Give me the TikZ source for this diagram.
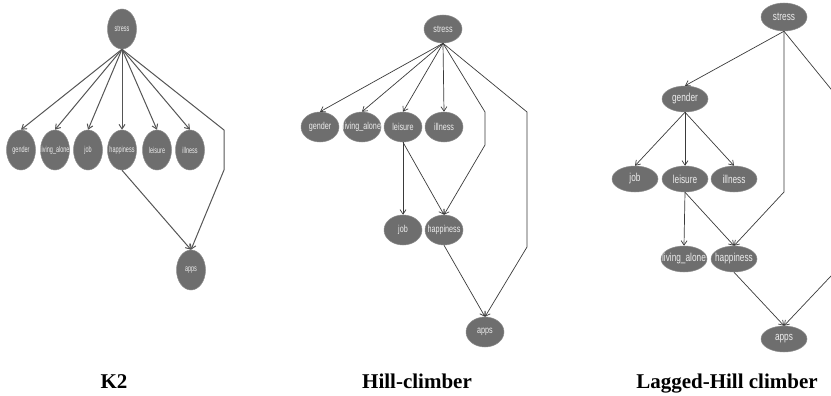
\documentclass[tikz,border=0pt]{standalone}
\usepackage{fontspec}
\setmainfont{Liberation Serif}
\newfontfamily\nodefont[FakeStretch=0.72]{Liberation Sans}
\newfontfamily\knodefont[FakeStretch=0.64]{Liberation Sans}
\usetikzlibrary{shapes.geometric,arrows.meta}
\definecolor{nodefill}{HTML}{6E6E6E}
\definecolor{nodeedge}{HTML}{8C8C8C}
\definecolor{nodetext}{HTML}{ECECEC}
\definecolor{edgecol}{HTML}{3A3A3A}
\definecolor{kedgecol}{HTML}{555555}
% zero-width label so the ellipse keeps its fixed size
\newcommand{\vlabel}[1]{\makebox[0pt][c]{#1}}
\begin{document}
\begin{tikzpicture}[x=1pt,y=-1pt,
  var/.style={ellipse, fill=nodefill, draw=nodeedge, line width=0.5pt,
              inner sep=0pt, text=nodetext},
  kvar/.style={var, minimum width=29pt, minimum height=40pt,
               font=\knodefont\fontsize{8.6}{9}\selectfont},
  hvar/.style={var, minimum width=38pt, minimum height=30pt,
               font=\nodefont\fontsize{10}{11}\selectfont},
  lvar/.style={var, minimum width=46pt, minimum height=26pt,
               font=\nodefont\fontsize{11.5}{12}\selectfont},
  arc/.style={draw=edgecol, line width=0.7pt,
              -{Straight Barb[length=4.5pt,width=6pt]}},
  karc/.style={arc, draw=kedgecol, line width=1pt},
  caption/.style={font=\bfseries\fontsize{21}{24}\selectfont, anchor=base}
]
\useasboundingbox (0,0) rectangle (831,396);
\clip (0,0) rectangle (831,396);

% ---------------- K2 ----------------
\node[kvar] (s1) at (122,29)  {\vlabel{stress}};
\node[kvar] (g1) at (21,150)  {\vlabel{gender}};
\node[kvar] (l1) at (55,150)  {\vlabel{living\_alone}};
\node[kvar] (j1) at (88,150)  {\vlabel{job}};
\node[kvar] (h1) at (122,150) {\vlabel{happiness}};
\node[kvar] (e1) at (157,150) {\vlabel{leisure}};
\node[kvar] (i1) at (190,150) {\vlabel{illness}};
\node[kvar] (a1) at (191,270) {\vlabel{apps}};
\coordinate (kb1) at (224,130);
\coordinate (kb2) at (224,170);

\draw[karc] (s1.south) -- (g1.north);
\draw[karc] (s1.south) -- (l1.north);
\draw[karc] (s1.south) -- (j1.north);
\draw[karc] (s1.south) -- (h1.north);
\draw[karc] (s1.south) -- (e1.north);
\draw[karc] (s1.south) -- (i1.north);
\draw[karc] (s1.south) -- (kb1) -- (kb2) -- (a1.north);
\draw[karc] (h1.south) -- (a1.north);

% ---------------- Hill-climber ----------------
\node[hvar, minimum height=28pt] (s2) at (443,29) {\vlabel{stress}};
\node[hvar] (g2) at (320,127) {\vlabel{gender}};
\node[hvar] (l2) at (362,127) {\vlabel{living\_alone}};
\node[hvar] (e2) at (403,127) {\vlabel{leisure}};
\node[hvar] (i2) at (444,127) {\vlabel{illness}};
\node[hvar] (j2) at (403,230) {\vlabel{job}};
\node[hvar] (h2) at (444,230) {\vlabel{happiness}};
\node[hvar] (a2) at (485,332) {\vlabel{apps}};
\coordinate (hb1) at (485,112);
\coordinate (hb2) at (485,145);
\coordinate (hb3) at (527,112);
\coordinate (hb4) at (527,247);

\draw[arc] (s2.south) -- (g2.north);
\draw[arc] (s2.south) -- (l2.north);
\draw[arc] (s2.south) -- (e2.north);
\draw[arc] (s2.south) -- (i2.north);
\draw[arc] (s2.south) -- (hb1) -- (hb2) -- (h2.north);
\draw[arc] (s2.south) -- (hb3) -- (hb4) -- (a2.north);
\draw[arc] (e2.south) -- (j2.north);
\draw[arc] (e2.south) -- (h2.north);
\draw[arc] (h2.south) -- (a2.north);

% ---------------- Lagged-Hill climber ----------------
\node[lvar, minimum height=28pt] (s3) at (784,17) {\vlabel{stress}};
\node[lvar] (g3) at (685,99)  {\vlabel{gender}};
\node[lvar] (j3) at (635,179) {\vlabel{job}};
\node[lvar] (e3) at (685,179) {\vlabel{leisure}};
\node[lvar] (i3) at (734,179) {\vlabel{illness}};
\node[lvar] (l3) at (684,259) {\vlabel{living\_alone}};
\node[lvar] (h3) at (734,259) {\vlabel{happiness}};
\node[lvar] (a3) at (784,339) {\vlabel{apps}};
\coordinate (lb1) at (784,192);
\coordinate (lb2) at (848,110);
\coordinate (lb3) at (848,258);

\draw[arc] (s3.south) -- (g3.north);
\draw[arc] (s3.south) -- (lb1) -- (h3.north);
\draw[arc] (s3.south) -- (lb2) -- (lb3) -- (a3.north);
\draw[arc] (g3.south) -- (j3.north);
\draw[arc] (g3.south) -- (e3.north);
\draw[arc] (g3.south) -- (i3.north);
\draw[arc] (e3.south) -- (l3.north);
\draw[arc] (e3.south) -- (h3.north);
\draw[arc] (h3.south) -- (a3.north);

% ---------------- captions ----------------
\node[caption] (c1) at (114,388) {K2};
\node[caption] (c2) at (417,388) {Hill-climber};
\node[caption] (c3) at (727,388) {Lagged-Hill climber};
\end{tikzpicture}
\end{document}
